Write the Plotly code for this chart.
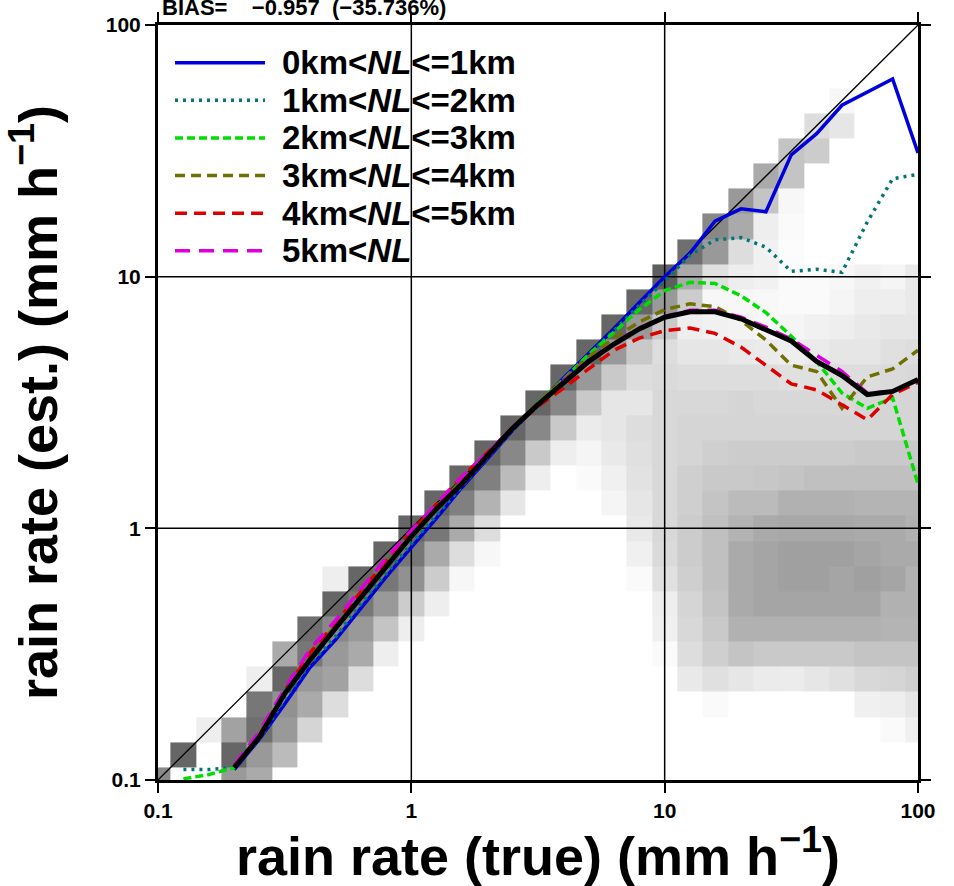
import numpy as np
import plotly.graph_objects as go

# ---------------- data ----------------
# rain-rate bin centres (mm/h), 10 bins per decade
rain_bins = [0.1, 0.126, 0.158, 0.2, 0.251, 0.316, 0.398, 0.501, 0.631, 0.794,
             1.0, 1.26, 1.58, 2.0, 2.51, 3.16, 3.98, 5.01, 6.31, 7.94,
             10.0, 12.6, 15.8, 20.0, 25.1, 31.6, 39.8, 50.1, 63.1, 79.4, 100.0]

# 2-D histogram density level (0..10) per true-rate bin (column),
# listed from the first non-empty estimated-rate bin upward
col_first_bin = [0, 1, 2, 0, 0, 1, 2, 3, 4, 5, 6, 7, 8, 9, 11, 12, 13, 12, 11, 8,
                 5, 4, 3, 4, 4, 4, 4, 4, 3, 2, 2]
col_levels = [
    [7],
    [9],
    [1],
    [6, 9, 5.5],
    [5, 6, 8.5, 8, 1],
    [4, 6, 6.5, 9, 5],
    [2.5, 5, 6, 8, 8.5],
    [2, 5.5, 6, 7, 9, 1],
    [2, 5, 6, 8, 9],
    [1, 3.5, 6, 8, 9],
    [1, 3, 6.5, 8, 9],
    [1, 3, 5, 8, 9],
    [0.5, 2, 5, 7.5, 9],
    [0.5, 2, 4.5, 7.5, 9],
    [1.5, 4, 7, 9],
    [1, 3.2, 7, 9],
    [1, 3.2, 7, 9],
    [0.3, 0.6, 1.2, 3.2, 6, 9],
    [0.6, 0.9, 1.3, 1.5, 1.5, 3.2, 6, 9],
    [0.3, 0.9, 1.3, 1.5, 1.7, 1.8, 2, 1.5, 2, 3.2, 6, 9],
    [0.3, 0.9, 1, 1.8, 2.2, 2.3, 2.3, 2.3, 2.3, 2.3, 2.3, 2.2, 2, 3.2, 6, 9.5],
    [1.3, 2, 2.3, 2.5, 2.8, 3, 3, 2.8, 2.8, 2.5, 2.5, 2.3, 2, 1.5, 1, 3, 5, 8.5],
    [0.3, 1.8, 2.8, 3.2, 3.5, 3.7, 3.7, 3.7, 3.5, 3.2, 2.8, 2.5, 2.3, 2, 1.5, 0.8, 0.5, 1.8, 6, 7],
    [1.5, 3.5, 4.6, 5, 5, 5, 4.5, 4, 3.2, 3, 2.5, 2.5, 2, 1.3, 0.7, 0.5, 1, 2, 5, 6],
    [1.2, 3.2, 4.6, 5.3, 5.3, 5.3, 5, 4, 3.3, 3, 2.5, 2.3, 2, 1.2, 0.5, 0.4, 0.8, 0.8, 1, 3.5, 5],
    [1.1, 3.2, 4.6, 5.3, 5.6, 5.6, 5.1, 4.6, 3.5, 3, 2.5, 2.3, 1.8, 1, 0.6, 0.3, 0.3, 0.2, 0.3, 0.5, 3.5, 3.5],
    [1.5, 3.2, 4.6, 5.3, 5.6, 5.6, 5.1, 4.6, 3.7, 3, 2.5, 2.3, 1.8, 1.2, 0.8, 0.3, 0.3, 0, 0, 0, 0, 3, 2],
    [1.8, 3.2, 4.6, 5.3, 5.3, 5.6, 5.1, 4.6, 3.7, 3, 2.5, 2.3, 2, 1.5, 1, 0.6, 0.5, 0, 0, 0, 0, 0, 1.5, 0.5],
    [0.9, 2.3, 3.5, 4.6, 5.3, 5.6, 5.3, 5, 4.4, 3.7, 3.2, 2.5, 2.5, 2, 1.5, 1.3, 1, 0.8],
    [0.3, 1, 2.5, 3.5, 4.4, 4.6, 5.3, 5, 5, 4.4, 3.7, 3.2, 2.5, 2.5, 2.2, 1.8, 1.5, 1, 0.6],
    [0.9, 1.5, 2.8, 3.5, 4.4, 4.6, 4.6, 5, 4.6, 4.4, 3.7, 3.2, 2.5, 2.5, 2.3, 2, 1.5, 1.3, 1.3],
]

N = None
# mean estimated rain rate per true-rate bin, by NL class
est_0_1km = [N, N, N, 0.11, 0.145, 0.20, 0.28, 0.36, 0.48, 0.64, 0.84, 1.1, 1.45, 1.9, 2.45, 3.1,
             3.95, 4.95, 6.2, 7.9, 10.0, 12.4, 16.6, 18.6, 18.1, 30.5, 37.0, 48.0, 54.0, 61.0, 31.0]
est_1_2km = [N, 0.11, 0.11, 0.112, 0.145, 0.21, 0.29, 0.37, 0.5, 0.66, 0.87, 1.13, 1.47, 1.92, 2.45, 3.1,
             3.9, 4.9, 6.1, 7.7, 9.6, 12.2, 14.0, 14.3, 13.1, 10.5, 10.7, 10.4, 16.5, 24.5, 25.5]
est_2_3km = [N, 0.101, 0.105, 0.112, 0.148, 0.22, 0.30, 0.40, 0.53, 0.70, 0.92, 1.2, 1.53, 1.97, 2.5, 3.15,
             3.9, 4.9, 6.0, 7.4, 8.8, 9.5, 9.4, 8.4, 7.2, 5.8, 4.6, 3.45, 3.0, 3.3, 1.5]
est_3_4km = [N, N, N, 0.112, 0.148, 0.22, 0.31, 0.41, 0.54, 0.72, 0.95, 1.22, 1.55, 2.0, 2.52, 3.15,
             3.9, 4.8, 5.7, 6.6, 7.4, 7.8, 7.6, 6.7, 5.6, 4.45, 4.2, 3.0, 4.0, 4.3, 5.1]
est_4_5km = [N, N, N, 0.112, 0.15, 0.225, 0.32, 0.42, 0.56, 0.74, 0.97, 1.25, 1.6, 2.0, 2.5, 3.05,
             3.6, 4.3, 5.1, 5.7, 6.1, 6.25, 5.95, 5.25, 4.45, 3.75, 3.55, 3.1, 2.7, 3.4, 3.8]
est_5km_up = [N, N, N, 0.115, 0.155, 0.23, 0.33, 0.43, 0.57, 0.76, 0.98, 1.25, 1.6, 2.0, 2.52, 3.1,
              3.85, 4.65, 5.45, 6.25, 6.95, 7.35, 7.35, 6.9, 6.3, 5.65, 4.85, 4.2, 3.45, 3.5, 3.9]
est_all = [N, N, N, 0.112, 0.148, 0.22, 0.30, 0.40, 0.53, 0.70, 0.93, 1.2, 1.5, 1.95, 2.5, 3.1,
           3.8, 4.6, 5.4, 6.2, 6.9, 7.25, 7.25, 6.8, 6.15, 5.55, 4.6, 4.05, 3.4, 3.5, 3.9]

series_names = ["0km&lt;<i>NL</i>&lt;=1km", "1km&lt;<i>NL</i>&lt;=2km", "2km&lt;<i>NL</i>&lt;=3km",
                "3km&lt;<i>NL</i>&lt;=4km", "4km&lt;<i>NL</i>&lt;=5km", "5km&lt;<i>NL</i>"]
series_values = [est_0_1km, est_1_2km, est_2_3km, est_3_4km, est_4_5km, est_5km_up]
series_colors = ["#0000dd", "#007575", "#00dd00", "#707000", "#dd0000", "#dd00dd"]
series_dash = ["solid", "3px,5px", "8px,4px", "10px,6px", "12px,7px", "15px,9px"]
series_width = [3.5, 3.5, 3.5, 3.5, 3.5, 3.5]

tick_vals = [0.1, 1, 10, 100]
tick_text = ["0.1", "1", "10", "100"]
bias_text = "BIAS=\u00a0\u00a0\u00a0\u00a0\u22120.957\u00a0\u00a0(\u221235.736%)"

# ---------------- build ----------------
nb = len(rain_bins)
z = np.full((nb, nb), np.nan)
for k, (first, levels) in enumerate(zip(col_first_bin, col_levels)):
    for i, v in enumerate(levels):
        if v > 0:
            z[first + i, k] = v

lc = np.log10(rain_bins)
half = 0.05
edges = 10 ** np.concatenate([[lc[0] - half], (lc[:-1] + lc[1:]) / 2, [lc[-1] + half]])

FONT = "Liberation Sans, Arial, Helvetica, sans-serif"

fig = go.Figure()
fig.add_trace(go.Heatmap(x=edges, y=edges, z=z, zmin=0, zmax=10,
                         colorscale=[[0, "rgb(255,255,255)"], [1, "rgb(85,85,85)"]],
                         showscale=False, hoverinfo="skip"))

lo, hi = tick_vals[0], tick_vals[-1]
for v in tick_vals[1:-1]:
    fig.add_trace(go.Scatter(x=[v, v], y=[lo, hi], mode="lines",
                             line=dict(color="black", width=1.5), hoverinfo="skip"))
    fig.add_trace(go.Scatter(x=[lo, hi], y=[v, v], mode="lines",
                             line=dict(color="black", width=1.5), hoverinfo="skip"))
fig.add_trace(go.Scatter(x=[lo, hi], y=[lo, hi], mode="lines",
                         line=dict(color="black", width=1.3), hoverinfo="skip"))

for name, vals, col, dash, w in zip(series_names, series_values, series_colors, series_dash, series_width):
    fig.add_trace(go.Scatter(x=rain_bins, y=vals, mode="lines", name=name,
                             line=dict(color=col, dash=dash, width=w)))
fig.add_trace(go.Scatter(x=rain_bins, y=est_all, mode="lines", name="all",
                         line=dict(color="black", width=5)))

# custom legend
shapes = []
annotations = []
for i, (name, col, dash, w) in enumerate(zip(series_names, series_colors, series_dash, series_width)):
    yy = 0.95 - 0.0498 * i
    shapes.append(dict(type="line", xref="paper", yref="paper", x0=0.0224, x1=0.1408, y0=yy, y1=yy,
                       line=dict(color=col, dash=dash, width=w)))
    annotations.append(dict(xref="paper", yref="paper", x=0.1605, y=yy, xanchor="left", yanchor="middle",
                            text="<b>" + name + "</b>", showarrow=False,
                            font=dict(family=FONT, size=33, color="black")))

annotations.append(dict(xref="paper", yref="paper", x=0.003, y=1.0235, xanchor="left", yanchor="middle",
                        text="<b>" + bias_text + "</b>", showarrow=False,
                        font=dict(family=FONT, size=22, color="black")))

axis_common = dict(type="log", range=[-1, 2], tickvals=tick_vals, ticktext=tick_text,
                   ticks="outside", ticklen=10, tickwidth=2, tickcolor="black",
                   showline=True, linewidth=3, linecolor="black", mirror="allticks",
                   showgrid=False, zeroline=False,
                   tickfont=dict(family=FONT, size=21, color="black", weight="bold"))

fig.update_layout(
    width=954, height=886,
    margin=dict(l=158, r=36, t=22, b=106),
    paper_bgcolor="white", plot_bgcolor="white",
    showlegend=False,
    shapes=shapes, annotations=annotations,
    xaxis=dict(**axis_common,
               title=dict(text="<b>rain rate (true) (mm h<sup>\u22121</sup>)</b>", standoff=14,
                          font=dict(family=FONT, size=54, color="black"))),
    yaxis=dict(**axis_common,
               title=dict(text="<b>rain rate (est.) (mm h<sup>\u22121</sup>)</b>", standoff=36,
                          font=dict(family=FONT, size=54, color="black"))),
)

fig.write_html("out.html")
